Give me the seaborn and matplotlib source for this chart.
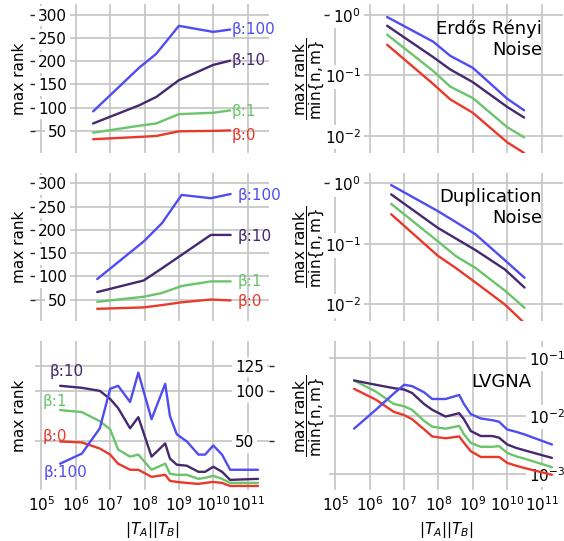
import pandas as pd
import matplotlib
matplotlib.use("Agg")
import matplotlib.pyplot as plt
import matplotlib.ticker as mticker
import seaborn as sns

BETAS = ["β:0", "β:1", "β:10", "β:100"]
COLORS = {"β:0": "#e8392a", "β:1": "#6cc46a", "β:10": "#45286f", "β:100": "#4f4cf2"}

# Erdős Rényi noise
er_x = [3.2e6, 7e7, 2.2e8, 1e9, 1e10, 3.1e10]
er_rank_b0 = [32, 37, 39, 49, 50, 51]
er_rank_b1 = [46, 61, 66, 86, 89, 94]
er_rank_b10 = [66, 105, 123, 159, 192, 201]
er_rank_b100 = [92, 186, 216, 276, 263, 268]
er_ratio_b0 = [0.32, 0.072, 0.040, 0.024, 0.0078, 0.0052]
er_ratio_b1 = [0.47, 0.118, 0.065, 0.042, 0.0139, 0.0094]
er_ratio_b10 = [0.66, 0.20, 0.125, 0.077, 0.030, 0.020]
er_ratio_b100 = [0.92, 0.36, 0.21, 0.133, 0.041, 0.0264]

# Duplication noise
dup_x = [4.2e6, 9.5e7, 3.2e8, 1.2e9, 8.5e9, 3.2e10]
dup_rank_b0 = [30, 33, 38, 44, 50, 48]
dup_rank_b1 = [45, 56, 64, 79, 89, 89]
dup_rank_b10 = [66, 91, 117, 146, 189, 189]
dup_rank_b100 = [94, 175, 214, 275, 268, 277]
dup_ratio_b0 = [0.31, 0.064, 0.040, 0.023, 0.010, 0.0049]
dup_ratio_b1 = [0.46, 0.111, 0.063, 0.040, 0.017, 0.0088]
dup_ratio_b10 = [0.66, 0.185, 0.123, 0.079, 0.038, 0.019]
dup_ratio_b100 = [0.94, 0.35, 0.23, 0.144, 0.054, 0.0276]

# LVGNA
lv_x = [3.5e5, 1.5e6, 5e6, 1e7, 1.7e7, 3.8e7, 6.6e7, 1.6e8, 4e8,
        5.5e8, 8.7e8, 1.7e9, 3.7e9, 5.8e9, 1e10, 1.8e10, 3.1e10, 2e11]
lv_rank_b0 = [50, 49, 43, 37, 28, 22, 22, 15, 17, 11, 10, 9, 8, 9, 10, 9, 6, 6]
lv_rank_b1 = [81, 79, 70, 62, 42, 35, 37, 22, 28, 18, 17, 17, 13, 14, 16, 13, 9, 9]
lv_rank_b10 = [105, 103, 100, 92, 83, 63, 74, 35, 48, 33, 27, 26, 20, 20, 25, 20, 12, 13]
lv_rank_b100 = [28, 38, 63, 102, 105, 89, 118, 72, 107, 75, 57, 50, 37, 37, 46, 37, 22, 22]
lv_ratio_b0 = [0.0292, 0.019, 0.0117, 0.0103, 0.00875, 0.00585, 0.0044, 0.0041, 0.0044,
               0.00343, 0.00245, 0.00195, 0.00195, 0.00195, 0.00154, 0.00138, 0.00126, 0.00096]
lv_ratio_b1 = [0.0407, 0.0262, 0.016, 0.0146, 0.0127, 0.0082, 0.0065, 0.0060, 0.0067,
               0.0048, 0.00343, 0.00292, 0.00292, 0.0030, 0.00229, 0.0020, 0.00183, 0.0013]
lv_ratio_b10 = [0.0407, 0.0343, 0.030, 0.0284, 0.0248, 0.016, 0.0127, 0.0097, 0.0111,
                0.00875, 0.00547, 0.00448, 0.00448, 0.00419, 0.0032, 0.0028, 0.00255, 0.00188]
lv_ratio_b100 = [0.0060, 0.0127, 0.0242, 0.0343, 0.0325, 0.0255, 0.0195, 0.0195, 0.0229,
                 0.016, 0.0107, 0.0090, 0.0084, 0.0079, 0.0058, 0.0053, 0.0048, 0.0032]

x_ticks = [1e5, 1e6, 1e7, 1e8, 1e9, 1e10, 1e11]


def long_df(x, series):
    rows = []
    for beta, vals in zip(BETAS, series):
        for xi, yi in zip(x, vals):
            rows.append((beta, xi, yi))
    return pd.DataFrame(rows, columns=["beta", "x", "y"])


def draw(ax, df):
    sns.lineplot(data=df, x="x", y="y", hue="beta", hue_order=BETAS, palette=COLORS,
                 ax=ax, legend=False, linewidth=1.7, estimator=None)
    ax.set_xlabel("")
    ax.set_ylabel("")


sns.set_theme(style="whitegrid")
plt.rcParams.update({
    "font.family": ["DejaVu Sans"],
    "font.size": 11,
    "axes.labelsize": 11,
    "xtick.labelsize": 11,
    "ytick.labelsize": 11,
    "text.color": "black",
    "axes.labelcolor": "black",
    "xtick.color": "black",
    "ytick.color": "black",
    "grid.color": "#c4c4c4",
    "grid.linewidth": 1.2,
})

fig, axes = plt.subplots(3, 2, sharex=True, figsize=(5.64, 5.41), dpi=100)
fig.subplots_adjust(left=35 / 564, right=563 / 564, top=1 - 4 / 541, bottom=1 - 490 / 541,
                    wspace=0.256, hspace=0.134)

panels = [
    (er_x, [er_rank_b0, er_rank_b1, er_rank_b10, er_rank_b100],
     [er_ratio_b0, er_ratio_b1, er_ratio_b10, er_ratio_b100], "Erdős Rényi\nNoise"),
    (dup_x, [dup_rank_b0, dup_rank_b1, dup_rank_b10, dup_rank_b100],
     [dup_ratio_b0, dup_ratio_b1, dup_ratio_b10, dup_ratio_b100], "Duplication\nNoise"),
    (lv_x, [lv_rank_b0, lv_rank_b1, lv_rank_b10, lv_rank_b100],
     [lv_ratio_b0, lv_ratio_b1, lv_ratio_b10, lv_ratio_b100], "LVGNA"),
]

ratio_label = r"$\dfrac{\mathregular{max\ rank}}{\mathregular{min\{n,m\}}}$"

for row, (x, ranks, ratios, title) in enumerate(panels):
    axl, axr = axes[row]
    draw(axl, long_df(x, ranks))
    draw(axr, long_df(x, ratios))
    for ax in (axl, axr):
        ax.set_xscale("log")
        ax.set_xlim(6.5e4, 4.2e11)
        ax.xaxis.set_major_locator(mticker.FixedLocator(x_ticks))
        ax.xaxis.set_major_formatter(mticker.LogFormatterSciNotation())
        ax.xaxis.set_minor_locator(mticker.NullLocator())
        ax.tick_params(axis="x", length=0, pad=4)
        for s in ax.spines.values():
            s.set_visible(False)
    axr.set_yscale("log")
    axr.yaxis.set_minor_locator(mticker.NullLocator())
    axl.set_ylabel("max rank")
    axr.set_ylabel(ratio_label)
    axl.yaxis.set_label_coords(-0.036, 0.5)
    axr.yaxis.set_label_coords(-0.008, 0.5)

    if row < 2:
        axl.set_ylim(3, 323)
        axl.set_yticks([50, 100, 150, 200, 250, 300])
        axr.set_ylim(0.00525, 1.51)
        for ax in (axl, axr):
            ax.tick_params(axis="y", left=True, right=False, labelleft=True, labelright=False,
                           length=3.5, width=1, color=".15", pad=-26.5)
        axr.text(0.91, 0.895, title, transform=axr.transAxes, ha="right", va="top",
                 fontsize=13, linespacing=1.2)
    else:
        axl.set_ylim(2, 149)
        axl.set_yticks([50, 100, 125])
        axr.set_ylim(0.000525, 0.193)
        for ax in (axl, axr):
            ax.tick_params(axis="y", left=False, right=True, labelleft=False, labelright=True,
                           length=3.5, width=1, color=".15", pad=-28)
        axr.text(0.864, 0.785, title, transform=axr.transAxes, ha="right", va="top",
                 fontsize=13)
        axl.set_xlabel(r"$|T_A||T_B|$")
        axr.set_xlabel(r"$|T_A||T_B|$")

# curve labels at line ends (top rows) and starts (bottom row)
end_offsets = [
    {"β:100": (1, 0), "β:10": (1, 0), "β:1": (1, -1), "β:0": (1, -4)},
    {"β:100": (5, -1), "β:10": (5, -1), "β:1": (5, 0), "β:0": (5, -1)},
]
for row in range(2):
    x, ranks = panels[row][0], panels[row][1]
    for beta, vals in zip(BETAS, ranks):
        axes[row, 0].annotate(beta, xy=(x[-1], vals[-1]), xytext=end_offsets[row][beta],
                              textcoords="offset points", ha="left", va="center",
                              color=COLORS[beta], fontsize=11)

start_offsets = {"β:10": (5, 10), "β:1": (-4, 6), "β:0": (-4, 3.5), "β:100": (4, -6)}
for beta, vals in zip(BETAS, panels[2][1]):
    axes[2, 0].annotate(beta, xy=(lv_x[0], vals[0]), xytext=start_offsets[beta],
                        textcoords="offset points", ha="center", va="center",
                        color=COLORS[beta], fontsize=11)

fig.canvas.draw()
for ax in axes.flat:
    for lbl in ax.get_yticklabels():
        lbl.set_bbox(dict(facecolor="white", edgecolor="none", pad=2))

fig.savefig("out.png", dpi=100)
